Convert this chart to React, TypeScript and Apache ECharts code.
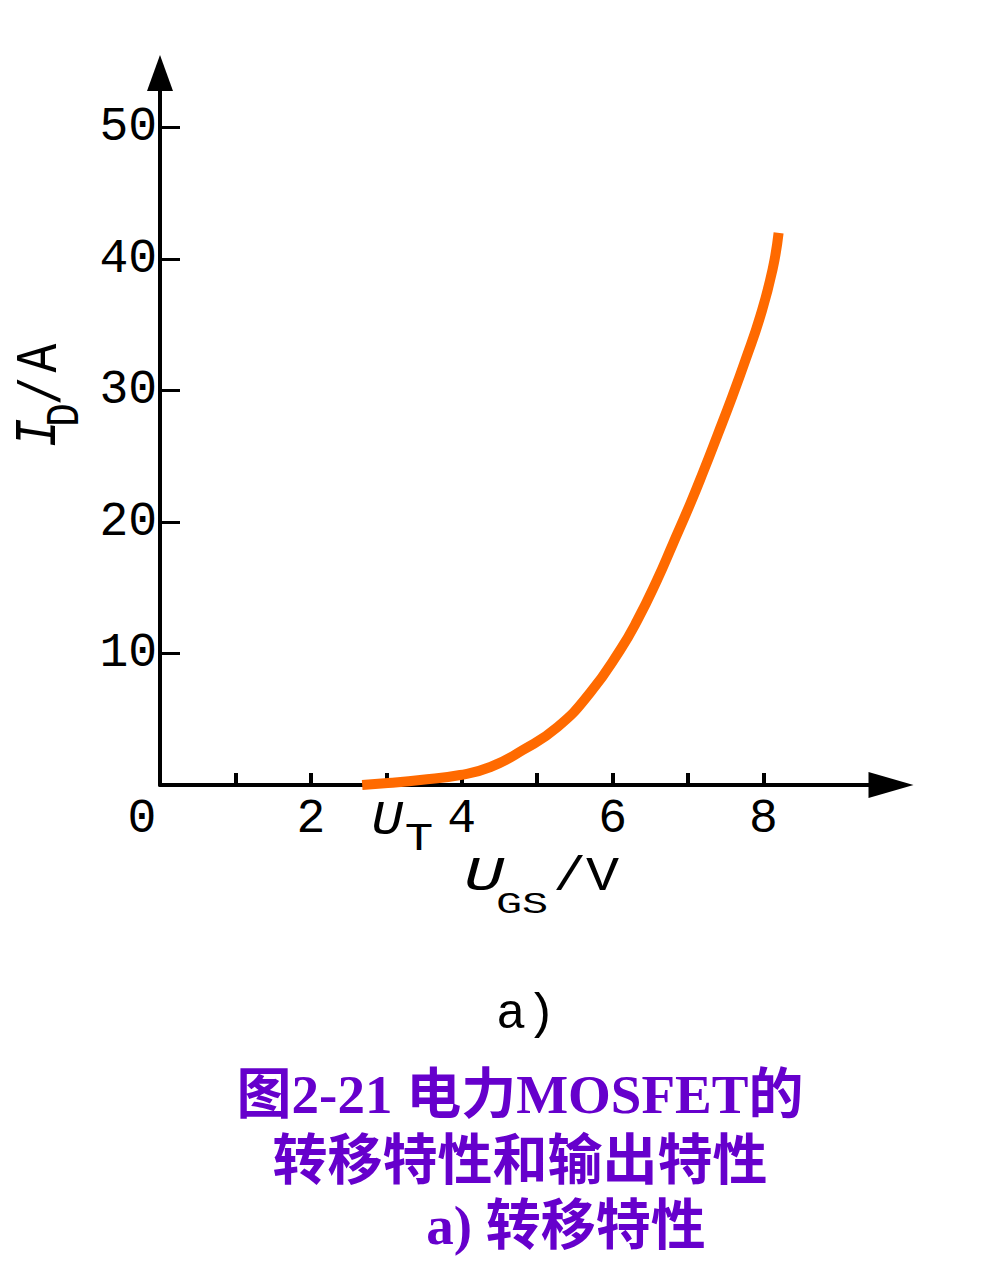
import React, { useEffect, useRef } from 'react';
import * as echarts from 'echarts';

// Transfer characteristic: U_GS (V) vs I_D (A)
const uGS = [2.68, 3.02, 3.45, 3.98, 4.38, 4.81, 5.27, 5.7, 6.1, 6.33, 6.59, 6.8, 7.03, 7.2, 7.39, 7.59, 7.76, 7.96, 8.12, 8.2];
const iD = [0.0, 0.15, 0.38, 0.76, 1.37, 2.66, 4.41, 7.0, 10.27, 12.55, 15.6, 18.35, 21.4, 23.8, 26.6, 29.6, 32.3, 35.7, 39.2, 41.98];

const xTickValues = [1, 2, 3, 4, 5, 6, 7, 8];
const xLabelValues = [0, 2, 4, 6, 8];
const yTickValues = [10, 20, 30, 40, 50];
const yLabelValues = [10, 20, 30, 40, 50];

const captionSmall = 'a)';
const titleLines = ['图2-21 电力MOSFET的', '转移特性和输出特性', 'a) 转移特性'];

const MONO = "'Liberation Mono', 'Courier New', monospace";
const TITLE_FONT = "'Liberation Serif', 'Noto Sans CJK SC', serif";
const CURVE = '#ff6a00';
const PURPLE = '#6600cc';

function txt(text: string, x: number, y: number, o: any = {}) {
  return {
    type: 'text',
    x,
    y,
    rotation: o.rotation || 0,
    scaleX: o.scaleX || 1,
    scaleY: o.scaleY || 1,
    silent: true,
    style: {
      text,
      fill: o.fill || '#000',
      fontSize: o.fontSize || 48,
      fontFamily: o.fontFamily || MONO,
      fontStyle: o.fontStyle || 'normal',
      fontWeight: o.fontWeight || 'normal',
      align: o.align || 'center',
      verticalAlign: 'middle',
      textAlign: o.align || 'center',
      textVerticalAlign: 'middle',
    },
  };
}

export default function App() {
  const ref = useRef<HTMLDivElement>(null);
  useEffect(() => {
    if (!ref.current) return;
    const chart = echarts.init(ref.current, null, { renderer: 'svg' });
    const data = uGS.map((u, i) => [u, iD[i]]);
    chart.setOption({
      animation: false,
      grid: { left: 160, top: 73, width: 731, height: 712, containLabel: false },
      xAxis: {
        type: 'value',
        min: 0,
        max: 9.69,
        interval: 1,
        splitLine: { show: false },
        axisLine: {
          show: true,
          onZero: false,
          lineStyle: { color: '#000', width: 4 },
          symbol: ['none', 'triangle'],
          symbolSize: [26, 45],
        },
        axisTick: {
          show: true,
          inside: true,
          length: 12,
          lineStyle: { color: '#000', width: 4 },
          customValues: xTickValues,
        },
        axisLabel: {
          show: true,
          margin: 10,
          color: '#000',
          fontSize: 48,
          fontFamily: MONO,
          customValues: xLabelValues,
          formatter: (v: number) => (v === 0 ? '{z|0}' : String(v)),
          rich: {
            z: { fontSize: 48, fontFamily: MONO, color: '#000', padding: [0, 36, 0, 0] },
          },
        },
      },
      yAxis: {
        type: 'value',
        min: 0,
        max: 54.14,
        interval: 10,
        splitLine: { show: false },
        axisLine: {
          show: true,
          onZero: false,
          lineStyle: { color: '#000', width: 4 },
          symbol: ['none', 'triangle'],
          symbolSize: [26, 36],
        },
        axisTick: {
          show: true,
          inside: true,
          length: 20,
          lineStyle: { color: '#000', width: 3 },
          customValues: yTickValues,
        },
        axisLabel: {
          show: true,
          margin: 3,
          color: '#000',
          fontSize: 48,
          fontFamily: MONO,
          customValues: yLabelValues,
        },
      },
      series: [
        {
          type: 'line',
          data,
          smooth: 0.5,
          showSymbol: false,
          symbol: 'none',
          lineStyle: { color: CURVE, width: 10 },
          z: 1,
        },
      ],
      graphic: [
        // y axis name I_D / A (rotated)
        txt('I', 39, 433, { rotation: Math.PI / 2, fontSize: 60, scaleX: 0.8, fontStyle: 'italic' }),
        txt('D', 66, 415, { rotation: Math.PI / 2, fontSize: 46, scaleX: 0.85 }),
        txt('/', 44, 391, { rotation: Math.PI / 2, fontSize: 60, scaleX: 0.8 }),
        txt('A', 40, 358, { rotation: Math.PI / 2, fontSize: 60, scaleX: 0.8 }),
        // x axis name U_GS / V
        txt('U', 484, 877, { fontSize: 48, scaleX: 1.4, fontStyle: 'italic' }),
        txt('GS', 522, 905, { fontSize: 30, scaleX: 1.45 }),
        txt('/V', 586, 877, { fontSize: 48, scaleX: 1.15 }),
        // threshold U_T
        txt('U', 387, 821, { fontSize: 48, scaleX: 1.1, fontStyle: 'italic' }),
        txt('T', 419, 840, { fontSize: 38, scaleX: 1.25 }),
        // sub caption
        txt(captionSmall, 526, 1014, { fontSize: 50 }),
        // title
        txt(titleLines[0], 520, 1094, { fontSize: 55, fontFamily: TITLE_FONT, fontWeight: 'bold', fill: PURPLE }),
        txt(titleLines[1], 520, 1160, { fontSize: 55, fontFamily: TITLE_FONT, fontWeight: 'bold', fill: PURPLE }),
        txt(titleLines[2], 566, 1225, { fontSize: 55, fontFamily: TITLE_FONT, fontWeight: 'bold', fill: PURPLE }),
      ],
    });
    return () => chart.dispose();
  }, []);
  return (
    <div
      ref={ref}
      style={{ position: 'absolute', left: 0, top: 0, width: 999, height: 1288, background: '#fff' }}
    />
  );
}
